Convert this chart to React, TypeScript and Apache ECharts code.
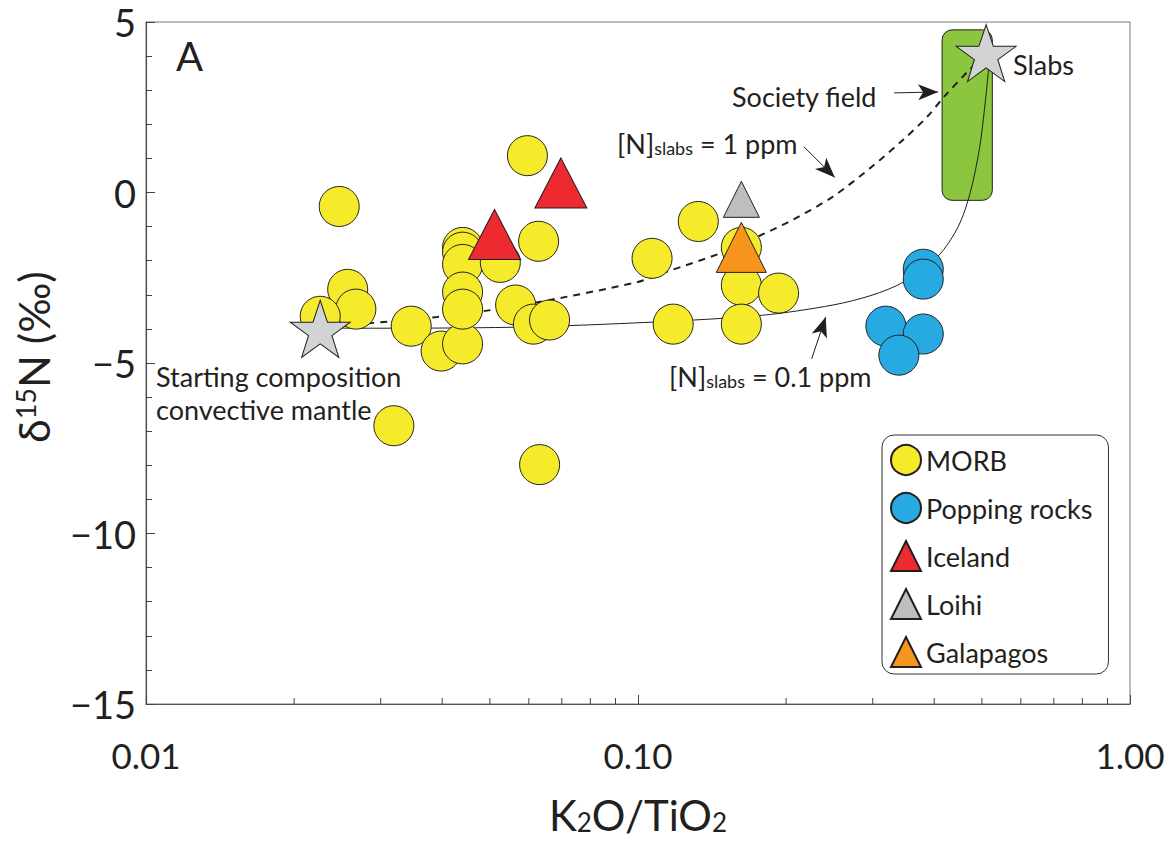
import React, { useEffect, useRef } from "react";
import * as echarts from "echarts";

// ---------- data ----------
const morbX = [0.0247, 0.0596, 0.0257, 0.0267, 0.0226, 0.0346, 0.0398, 0.044, 0.044, 0.044, 0.044, 0.044, 0.044, 0.0525, 0.0628, 0.0564, 0.0613, 0.0661, 0.1068, 0.1326, 0.1179, 0.1622, 0.1622, 0.1931, 0.1622, 0.0319, 0.0631];
const morbY = [-0.41, 1.08, -2.84, -3.42, -3.63, -3.92, -4.65, -4.44, -1.61, -1.75, -2.11, -2.92, -3.42, -2.05, -1.43, -3.3, -3.86, -3.74, -1.93, -0.85, -3.86, -1.61, -2.72, -2.95, -3.86, -6.84, -7.98];

const poppingX = [0.38, 0.38, 0.319, 0.38, 0.339];
const poppingY = [-2.25, -2.54, -3.92, -4.15, -4.77];

const icelandX = [0.0511, 0.0697];
const icelandY = [-1.23, 0.28];

const loihiX = [0.1622];
const loihiY = [-0.2];

const galapagosX = [0.1622];
const galapagosY = [-1.61];

const startX = [0.0226];
const startY = [-4.0];
const slabX = [0.51];
const slabY = [4.09];

const societyFieldX = [0.415, 0.525];
const societyFieldY = [-0.23, 4.77];

const curve1ppmX = [0.0235, 0.0273, 0.0391, 0.0485, 0.0625, 0.0995, 0.1135, 0.149, 0.179, 0.207, 0.249, 0.299, 0.346, 0.387, 0.419, 0.472, 0.51];
const curve1ppmY = [-3.95, -3.86, -3.65, -3.48, -3.22, -2.63, -2.34, -1.75, -1.23, -0.79, -0.12, 0.76, 1.55, 2.22, 2.81, 3.6, 4.04];

const curve01ppmX = [0.0235, 0.0263, 0.0561, 0.1073, 0.179, 0.249, 0.299, 0.346, 0.407, 0.448, 0.4735, 0.494, 0.506, 0.515, 0.517];
const curve01ppmY = [-3.97, -3.98, -3.95, -3.8, -3.6, -3.3, -3.01, -2.63, -1.87, -0.99, 0.0, 1.26, 2.43, 3.51, 3.95];

const xMinorTicks = [0.02, 0.03, 0.04, 0.05, 0.06, 0.07, 0.08, 0.09, 0.2, 0.3, 0.4, 0.5, 0.6, 0.7, 0.8, 0.9];

// arrows: [x1, y1, x2, y2]
const arrowSociety = [0.3316, 2.92, 0.4074, 2.95];
const arrow1ppm = [0.2172, 1.345, 0.2512, 0.44];
const arrow01ppm = [0.2254, -4.88, 0.2407, -3.65];

const xTickLabels = ["0.01", "0.10", "1.00"];

// ---------- helpers ----------
const zip = (xs: number[], ys: number[]) => xs.map((x, i) => [x, ys[i]]);
const STAR = "path://M50,0 L61.8,35.1 L98.9,35.1 L69.1,56.7 L80.3,91.9 L50,70 L19.7,91.9 L30.9,56.7 L1.1,35.1 L38.2,35.1 Z";
const FONT = "Lato";
const INK = "#231f20";
const stroke = { borderColor: INK, borderWidth: 1, opacity: 1 };

const arrowPair = (a: number[]) => [{ coord: [a[0], a[1]] }, { coord: [a[2], a[3]] }];

export default function App() {
  const ref = useRef<HTMLDivElement>(null);
  useEffect(() => {
    const chart = echarts.init(ref.current!, null, { renderer: "svg" });
    const option: any = {
      animation: false,
      backgroundColor: "#ffffff",
      textStyle: { fontFamily: FONT, color: INK },
      grid: {
        left: 146,
        top: 22,
        right: 40,
        bottom: 135,
        show: true,
        borderColor: "#777",
        borderWidth: 1,
      },
      xAxis: {
        type: "log",
        logBase: 10,
        min: 0.01,
        max: 1,
        name: "K{s|2}O/TiO{s|2}",
        nameLocation: "middle",
        nameGap: 90,
        nameTextStyle: {
          fontFamily: FONT,
          fontSize: 42,
          color: INK,
          rich: { s: { fontSize: 26, fontFamily: FONT, color: INK, padding: [14, 0, 0, 0] } },
        },
        axisLine: { onZero: false, lineStyle: { color: "#555", width: 1.2 } },
        axisTick: { inside: true, length: 9, lineStyle: { color: "#444" } },
        splitLine: { show: false },
        axisLabel: {
          fontFamily: FONT,
          fontSize: 35,
          color: INK,
          margin: 33,
          formatter: (v: number) => {
            const idx = Math.round(Math.log10(v)) + 2;
            return xTickLabels[idx] ?? "";
          },
        },
      },
      yAxis: {
        type: "value",
        min: -15,
        max: 5,
        interval: 5,
        axisLine: { show: true, onZero: false, lineStyle: { color: "#555", width: 1.2 } },
        axisTick: { inside: true, length: 9, lineStyle: { color: "#444" } },
        minorTick: { show: true, splitNumber: 5, length: 6, lineStyle: { color: "#444" } },
        splitLine: { show: false },
        axisLabel: {
          fontFamily: FONT,
          fontSize: 38,
          lineHeight: 30,
          color: INK,
          margin: 10,
          formatter: (v: number) => (v < 0 ? "\u2212" + Math.abs(v) : String(v)),
        },
      },
      legend: {
        orient: "vertical",
        left: 882,
        top: 435,
        padding: [9, 16, 6, 8],
        itemGap: 16,
        itemWidth: 30,
        itemHeight: 30,
        borderColor: "#333",
        borderWidth: 1,
        borderRadius: 12,
        textStyle: { fontFamily: FONT, fontSize: 27, lineHeight: 30, width: 165, overflow: "none", color: INK },
        data: ["MORB", "Popping rocks", "Iceland", "Loihi", "Galapagos"],
      },
      series: [
        {
          type: "custom",
          name: "Society field",
          z: 1,
          silent: true,
          encode: { x: [0, 1], y: [2, 3] },
          data: [[societyFieldX[0], societyFieldX[1], societyFieldY[0], societyFieldY[1]]],
          renderItem: (params: any, api: any) => {
            const p1 = api.coord([api.value(0), api.value(3)]);
            const p2 = api.coord([api.value(1), api.value(2)]);
            return {
              type: "rect",
              shape: { x: p1[0], y: p1[1], width: p2[0] - p1[0], height: p2[1] - p1[1], r: 10 },
              style: { fill: "#8cc63f", stroke: INK, lineWidth: 1 },
            };
          },
        },
        {
          type: "custom",
          name: "xMinorTicks",
          z: 5,
          silent: true,
          encode: { x: 0, y: 1 },
          data: xMinorTicks.map((v) => [v, -15]),
          renderItem: (params: any, api: any) => {
            const p = api.coord([api.value(0), api.value(1)]);
            return {
              type: "line",
              shape: { x1: p[0], y1: p[1], x2: p[0], y2: p[1] - 6 },
              style: { stroke: "#444", lineWidth: 1 },
            };
          },
        },
        {
          type: "line",
          name: "[N]slabs = 1 ppm",
          z: 2,
          data: zip(curve1ppmX, curve1ppmY),
          smooth: 0.3,
          showSymbol: false,
          symbol: "none",
          silent: true,
          lineStyle: { color: INK, width: 2, type: [7, 6] },
        },
        {
          type: "line",
          name: "[N]slabs = 0.1 ppm",
          z: 2,
          data: zip(curve01ppmX, curve01ppmY),
          smooth: 0.3,
          showSymbol: false,
          symbol: "none",
          silent: true,
          lineStyle: { color: INK, width: 1 },
        },
        {
          type: "line",
          name: "arrows",
          z: 3,
          data: [],
          silent: true,
          markLine: {
            silent: true,
            symbol: ["none", "arrow"],
            symbolSize: [12, 20],
            label: { show: false },
            lineStyle: { color: INK, width: 1, type: "solid" },
            data: [arrowPair(arrowSociety), arrowPair(arrow1ppm), arrowPair(arrow01ppm)],
          },
        },
        {
          type: "scatter",
          name: "MORB",
          z: 4,
          symbol: "circle",
          symbolSize: 40,
          itemStyle: { color: "#f6eb2a", ...stroke },
          data: zip(morbX, morbY),
        },
        {
          type: "scatter",
          name: "Popping rocks",
          z: 4,
          symbol: "circle",
          symbolSize: 40,
          itemStyle: { color: "#27aae1", ...stroke },
          data: zip(poppingX, poppingY),
        },
        {
          type: "scatter",
          name: "Iceland",
          z: 5,
          symbol: "triangle",
          symbolSize: [52, 50],
          itemStyle: { color: "#ec2a2f", ...stroke },
          data: zip(icelandX, icelandY),
        },
        {
          type: "scatter",
          name: "Loihi",
          z: 5,
          symbol: "triangle",
          symbolSize: [36, 36],
          itemStyle: { color: "#bcbec0", ...stroke },
          data: zip(loihiX, loihiY),
        },
        {
          type: "scatter",
          name: "Galapagos",
          z: 6,
          symbol: "triangle",
          symbolSize: [50, 50],
          itemStyle: { color: "#f7941d", ...stroke },
          data: zip(galapagosX, galapagosY),
        },
        {
          type: "scatter",
          name: "Starting composition",
          z: 7,
          symbol: STAR,
          symbolSize: [60, 57],
          itemStyle: { color: "#d1d3d4", ...stroke },
          data: zip(startX, startY),
        },
        {
          type: "scatter",
          name: "Slabs",
          z: 7,
          symbol: STAR,
          symbolSize: [60, 57],
          itemStyle: { color: "#d1d3d4", ...stroke },
          data: zip(slabX, slabY),
        },
      ],
      graphic: [
        {
          type: "text",
          x: 33,
          y: 443,
          rotation: Math.PI / 2,
          style: {
            text: "δ{p|15}N (‰)",
            font: `43px ${FONT}`,
            fill: INK,
            textAlign: "left",
            verticalAlign: "middle",
            rich: { p: { fontSize: 27, fontFamily: FONT, fill: INK, padding: [0, 0, 16, 0] } },
          },
        },
        { type: "text", left: 176, top: 36, style: { text: "A", font: `40px ${FONT}`, fill: INK } },
        { type: "text", x: 732, y: 96, style: { text: "Society field", font: `27px ${FONT}`, fill: INK, verticalAlign: "middle" } },
        {
          type: "text",
          x: 617,
          y: 143,
          style: {
            text: "[N]{s|slabs} = 1 ppm",
            font: `27px ${FONT}`,
            fill: INK,
            verticalAlign: "middle",
            rich: { s: { fontSize: 18, fontFamily: FONT, fill: INK, padding: [9, 0, 0, 0] } },
          },
        },
        {
          type: "text",
          x: 669,
          y: 376,
          style: {
            text: "[N]{s|slabs} = 0.1 ppm",
            font: `27px ${FONT}`,
            fill: INK,
            verticalAlign: "middle",
            rich: { s: { fontSize: 18, fontFamily: FONT, fill: INK, padding: [9, 0, 0, 0] } },
          },
        },
        { type: "text", x: 1013, y: 64, style: { text: "Slabs", font: `27px ${FONT}`, fill: INK, verticalAlign: "middle" } },
        { type: "text", x: 156, y: 376, style: { text: "Starting composition", font: `27px ${FONT}`, fill: INK, verticalAlign: "middle" } },
        { type: "text", x: 156, y: 409, style: { text: "convective mantle", font: `27px ${FONT}`, fill: INK, verticalAlign: "middle" } },
      ],
    };
    chart.setOption(option);
    return () => chart.dispose();
  }, []);
  return <div ref={ref} style={{ position: "fixed", left: 0, top: 0, width: 1170, height: 841 }} />;
}
